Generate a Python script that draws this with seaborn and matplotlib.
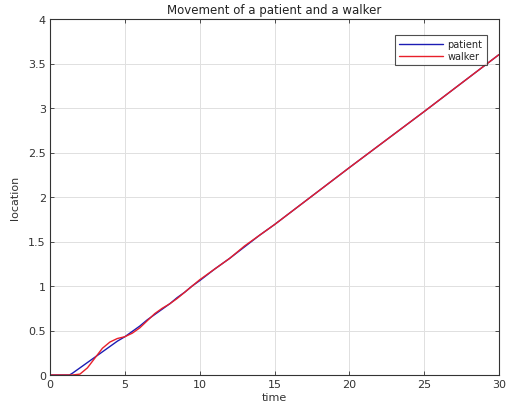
import matplotlib
matplotlib.use("Agg")
import matplotlib.pyplot as plt
import seaborn as sns
import pandas as pd

time = [0, 0.5, 1, 1.3, 1.5, 2, 2.5, 3, 3.5, 4, 4.5, 5, 5.5, 6, 6.5, 7, 7.5, 8,
        8.5, 9, 9.5, 10, 11, 12, 13, 14, 15, 20, 25, 30]
patient = [0, 0, 0, 0, 0.02, 0.08, 0.14, 0.20, 0.26, 0.32, 0.38, 0.43, 0.49, 0.55,
           0.62, 0.68, 0.74, 0.80, 0.87, 0.93, 1.00, 1.06, 1.19, 1.31, 1.44, 1.57,
           1.69, 2.33, 2.96, 3.60]
walker = [0, 0, 0, 0, 0, 0.01, 0.08, 0.19, 0.30, 0.37, 0.41, 0.43, 0.47, 0.53,
          0.61, 0.69, 0.75, 0.80, 0.86, 0.93, 1.00, 1.07, 1.19, 1.31, 1.45, 1.57,
          1.69, 2.33, 2.96, 3.60]
series_names = ["patient", "walker"]
title = "Movement of a patient and a walker"
xticks = [0, 5, 10, 15, 20, 25, 30]
yticks = [0, 0.5, 1, 1.5, 2, 2.5, 3, 3.5, 4]

sns.set_theme(style="ticks")
plt.rcParams['font.family'] = ['DejaVu Sans']

df = pd.concat([
    pd.DataFrame({"time": time, "location": patient, "series": series_names[0]}),
    pd.DataFrame({"time": time, "location": walker, "series": series_names[1]}),
])

fig = plt.figure(figsize=(5.09, 4.14), dpi=100)
ax = fig.add_axes([50/509, 38/414, 449/509, 356/414])
sns.lineplot(data=df, x="time", y="location", hue="series",
             palette={"patient": "#1c1cb4", "walker": "#e8202a"},
             linewidth=1.0, ax=ax, legend=True)

ax.set_xlim(0, 30)
ax.set_ylim(0, 4)
ax.set_xticks(xticks)
ax.set_yticks(yticks)
ax.set_xticklabels([str(v) for v in xticks])
ax.set_yticklabels([f"{v:g}" for v in yticks])
ax.grid(True, color="#e0e0e0", linewidth=0.7)
ax.set_axisbelow(True)
for s in ax.spines.values():
    s.set_visible(True)
    s.set_color("#333333")
    s.set_linewidth(0.8)
ax.tick_params(direction="in", length=3, width=0.6, colors="#333333",
               labelsize=8, top=True, right=True, pad=3)
ax.set_xlabel("time", fontsize=8, color="#333333", labelpad=2)
ax.set_ylabel("location", fontsize=8, color="#333333", labelpad=6)
ax.set_title(title, fontsize=8.5, color="#222222", pad=4)

leg = ax.legend(loc="upper right", bbox_to_anchor=(0.983, 0.968), fontsize=7,
                frameon=True, fancybox=False, handlelength=4.5,
                borderpad=0.4, labelspacing=0.2, handletextpad=0.5)
leg.get_frame().set_edgecolor("#222222")
leg.get_frame().set_linewidth(0.8)
leg.set_title(None)

fig.savefig("out.png", dpi=100)
